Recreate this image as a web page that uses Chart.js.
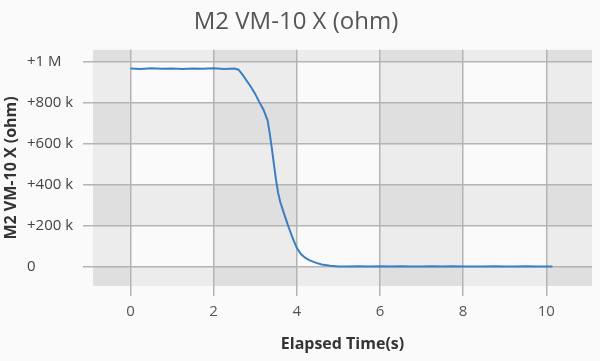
<!DOCTYPE html>
<html lang="en">

<head>
    <meta charset="UTF-8">
    <script src="https://cdn.jsdelivr.net/npm/chart.js"></script>
    <title>M2 VM-10 X (ohm)</title>
    <style>
        body { margin: 0; background: #fafafa; }
        .box { width: 600px; height: 361px; }
    </style>
</head>

<body>
    <div class="box">
        <canvas id="grafico"></canvas>
    </div>
</body>

</html>

<script>
    // dados
    var tempo = [0, 0.25, 0.5, 0.75, 1, 1.25, 1.5, 1.75, 2, 2.25, 2.5,
        2.6, 2.7, 2.8, 2.9, 3.0, 3.1, 3.2, 3.3,
        3.35, 3.4, 3.45, 3.5, 3.55, 3.6,
        3.7, 3.8, 3.9, 4.0, 4.1, 4.2, 4.3,
        4.45, 4.6, 4.8, 5.0,
        5.25, 5.5, 5.75, 6, 6.25, 6.5, 6.75, 7, 7.25, 7.5, 7.75, 8, 8.25, 8.5, 8.75, 9, 9.25, 9.5, 9.75, 10, 10.15]
    var resistencia = [966000, 964000, 967000, 965000, 966000, 963000, 966000, 965000, 967000, 964000, 966000,
        960000, 935000, 905000, 876000, 842000, 802000, 765000, 712000,
        650000, 578000, 500000, 425000, 362000, 318000,
        255000, 195000, 140000, 92000, 62000, 44000, 32000,
        20000, 11000, 5000, 1500,
        800, 2200, 500, 1800, 900, 2500, 1200, 600, 2000, 1000, 2400, 700, 1600, 900, 2100, 500, 1300, 2200, 800, 1500, 1100]
    var ticksX = [0, 2, 4, 6, 8, 10]
    var ticksY = [0, 200000, 400000, 600000, 800000, 1000000]
    var labelsY = ['0', '+200 k', '+400 k', '+600 k', '+800 k', '+1 M']

    var fonte = "'Open Sans', 'Noto Sans', sans-serif"

    var pontos = []
    for (var i = 0; i < tempo.length; i++) {
        pontos.push({ x: tempo[i], y: resistencia[i] })
    }

    // faixas alternadas no fundo
    var faixas = {
        id: 'faixas',
        beforeDraw: function (chart) {
            var ctx = chart.ctx
            var area = chart.chartArea
            var sx = chart.scales.x
            var sy = chart.scales.y
            ctx.save()
            ctx.fillStyle = '#fafafa'
            ctx.fillRect(area.left, area.top, area.right - area.left, area.bottom - area.top)
            ctx.fillStyle = 'rgba(0,0,0,0.055)'
            var bx = [area.left].concat(ticksX.map(v => sx.getPixelForValue(v)), [area.right])
            for (var i = 0; i < bx.length - 1; i += 2) {
                ctx.fillRect(bx[i], area.top, bx[i + 1] - bx[i], area.bottom - area.top)
            }
            var by = [area.top].concat(ticksY.slice().reverse().map(v => sy.getPixelForValue(v)), [area.bottom])
            for (var j = 0; j < by.length - 1; j += 2) {
                ctx.fillRect(area.left, by[j], area.right - area.left, by[j + 1] - by[j])
            }
            ctx.restore()
        }
    }

    const grafico = new Chart(document.getElementById('grafico'), {
        type: 'line',
        data: {
            datasets: [{
                data: pontos,
                xAxisID: 'x',
                yAxisID: 'y',
                borderColor: '#3b7fc0',
                borderWidth: 2,
                pointRadius: 0,
                fill: false,
                tension: 0
            }]
        },
        options: {
            responsive: true,
            maintainAspectRatio: false,
            animation: false,
            layout: { padding: { left: 0, right: 8, top: 0, bottom: 0 } },
            plugins: {
                legend: { display: false },
                tooltip: { enabled: false },
                title: {
                    display: true,
                    text: 'M2 VM-10 X (ohm)',
                    color: '#555',
                    font: { family: fonte, size: 24, weight: 'normal' },
                    padding: { top: 8, bottom: 13 }
                }
            },
            scales: {
                x: {
                    type: 'linear',
                    min: -0.9,
                    max: 11.1,
                    afterBuildTicks: function (s) { s.ticks = ticksX.map(v => ({ value: v })) },
                    afterFit: function (s) { s.height = 75 },
                    border: { display: false },
                    grid: { color: '#b4b4b4', lineWidth: 1.5, tickLength: 10 },
                    ticks: { color: '#555', padding: 7, font: { family: fonte, size: 15 } },
                    title: {
                        display: true,
                        text: 'Elapsed Time(s)',
                        color: '#333',
                        font: { family: fonte, size: 16, weight: 'bold' },
                        padding: { top: 4, bottom: 7 }
                    }
                },
                // eixo so para o titulo vertical
                yTitulo: {
                    type: 'linear',
                    position: 'left',
                    weight: 1,
                    afterFit: function (s) { s.width = 27 },
                    border: { display: false },
                    grid: { display: false, drawTicks: false },
                    ticks: { display: false },
                    title: {
                        display: true,
                        text: 'M2 VM-10 X (ohm)',
                        color: '#333',
                        font: { family: fonte, size: 16, weight: 'bold' },
                        padding: { top: 2, bottom: 0 }
                    }
                },
                y: {
                    position: 'left',
                    weight: 0,
                    min: -94000,
                    max: 1057000,
                    afterBuildTicks: function (s) { s.ticks = ticksY.map(v => ({ value: v })) },
                    afterFit: function (s) { s.width = 66 },
                    border: { display: false },
                    grid: { color: '#b4b4b4', lineWidth: 1.5, tickLength: 10 },
                    ticks: {
                        color: '#444',
                        crossAlign: 'far',
                        font: { family: fonte, size: 15 },
                        callback: function (v) { return labelsY[ticksY.indexOf(v)] }
                    }
                }
            }
        },
        plugins: [faixas]
    });
</script>
